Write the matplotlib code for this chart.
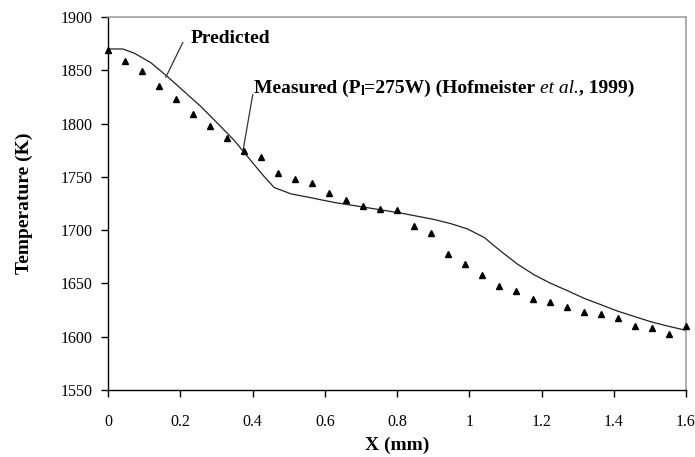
import matplotlib
matplotlib.use("Agg")
import matplotlib.pyplot as plt

# Measured data (triangles)
measured_x = [0.000, 0.047, 0.094, 0.141, 0.188, 0.235, 0.282, 0.329, 0.376, 0.424,
              0.471, 0.518, 0.565, 0.612, 0.659, 0.706, 0.753, 0.800, 0.847, 0.894,
              0.941, 0.988, 1.035, 1.082, 1.129, 1.176, 1.224, 1.271, 1.318, 1.365,
              1.412, 1.459, 1.506, 1.553, 1.600]
measured_t = [1869, 1859, 1849, 1835, 1823, 1809, 1798, 1786, 1774, 1769,
              1754, 1748, 1744, 1735, 1728, 1723, 1720, 1719, 1704, 1697,
              1678, 1668, 1658, 1648, 1643, 1635, 1633, 1628, 1623, 1621,
              1618, 1610, 1608, 1603, 1610]

# Predicted curve
pred_x = [0.000, 0.041, 0.073, 0.119, 0.165, 0.211, 0.257, 0.304, 0.350, 0.396,
          0.433, 0.460, 0.507, 0.553, 0.626, 0.719, 0.811, 0.903, 0.950, 0.996,
          1.042, 1.088, 1.134, 1.180, 1.226, 1.273, 1.318, 1.365, 1.411, 1.457,
          1.503, 1.549, 1.600]
pred_t = [1870, 1870, 1866, 1857, 1844, 1830, 1816, 1800, 1784, 1765,
          1750, 1740, 1734, 1731, 1726, 1721, 1716, 1710, 1706, 1701,
          1693, 1680, 1668, 1658, 1650, 1643, 1636, 1630, 1624, 1619,
          1614, 1610, 1606]

x_ticks = [0, 0.2, 0.4, 0.6, 0.8, 1.0, 1.2, 1.4, 1.6]
x_tick_labels = ["0", "0.2", "0.4", "0.6", "0.8", "1", "1.2", "1.4", "1.6"]
y_ticks = [1550, 1600, 1650, 1700, 1750, 1800, 1850, 1900]

plt.rcParams['font.family'] = ['Liberation Serif', 'DejaVu Serif']

fig = plt.figure(figsize=(6.95, 4.57), dpi=100)
ax = fig.add_axes([108/695, 1-390/457, (686-108)/695, (390-17)/457])

ax.plot(pred_x, pred_t, color='#222222', lw=0.9, zorder=2)
ax.plot(measured_x, measured_t, linestyle='none', marker='^', ms=5,
        color='black', zorder=3, clip_on=False)

ax.set_xlim(0, 1.6)
ax.set_ylim(1550, 1900)
ax.set_xticks(x_ticks)
ax.set_xticklabels(x_tick_labels)
ax.set_yticks(y_ticks)
ax.tick_params(direction='out', length=5, width=1, labelsize=11.5, color='black')
ax.tick_params(axis='y', pad=6)
ax.tick_params(axis='x', pad=12)

for s in ['left', 'bottom']:
    ax.spines[s].set_color('black')
    ax.spines[s].set_linewidth(1)
for s in ['top', 'right']:
    ax.spines[s].set_color('#a0a0a0')
    ax.spines[s].set_linewidth(1.2)

ax.set_xlabel('X (mm)', fontsize=14, fontweight='bold', labelpad=5)
ax.set_ylabel('Temperature (K)', fontsize=14, fontweight='bold', labelpad=20)

# Annotations
ax.plot([0.207, 0.160], [1876, 1843.5], color='#333333', lw=0.9)
ax.text(0.228, 1876, 'Predicted', fontsize=14, fontweight='bold',
        ha='left', va='baseline')
ax.plot([0.4006, 0.3745], [1827, 1776], color='#333333', lw=0.9)

fs = 14
t1 = ax.text(0.403, 1829, 'Measured (P', fontsize=fs, fontweight='bold',
             ha='left', va='baseline')
t2 = ax.annotate('l', xy=(1, 0), xycoords=t1, xytext=(0.2, -1.2),
                 textcoords='offset points', fontsize=10, fontweight='bold',
                 ha='left', va='bottom')
t3 = ax.annotate('=275W) (Hofmeister', xy=(1, 0), xycoords=(t2, t1),
                 xytext=(0, 0), textcoords='offset points', fontsize=fs,
                 fontweight='bold', ha='left', va='bottom')
t4 = ax.annotate('et al.', xy=(1, 0), xycoords=(t3, t1), xytext=(3.5, 0),
                 textcoords='offset points', fontsize=fs, fontstyle='italic',
                 ha='left', va='bottom')
t5 = ax.annotate(', 1999)', xy=(1, 0), xycoords=(t4, t1), xytext=(0, 0),
                 textcoords='offset points', fontsize=fs, fontweight='bold',
                 ha='left', va='bottom')

fig.savefig('out.png', dpi=100)
